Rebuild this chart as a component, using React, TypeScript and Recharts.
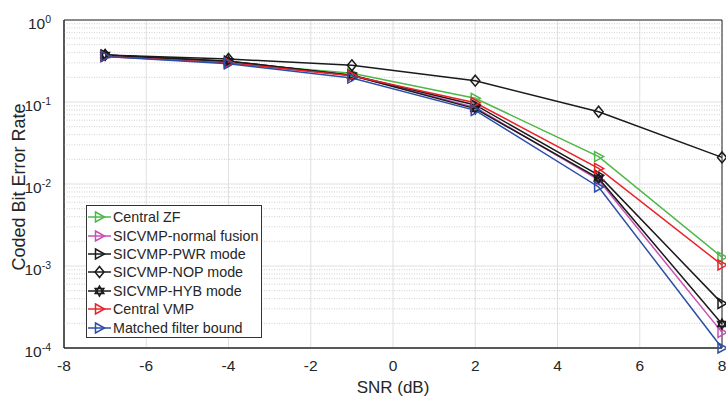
import React from 'react';
import { LineChart, Line, XAxis, YAxis, CartesianGrid, ReferenceLine, ReferenceArea, Legend } from 'recharts';

const snr = [-7, -4, -1, 2, 5, 8];
const centralZF = [0.37, 0.3, 0.224, 0.111, 0.0216, 0.00128];
const normalFusion = [0.365, 0.3, 0.21, 0.086, 0.0112, 0.000155];
const pwrMode = [0.375, 0.315, 0.212, 0.092, 0.0128, 0.00035];
const nopMode = [0.375, 0.334, 0.28, 0.182, 0.076, 0.0211];
const hybMode = [0.375, 0.315, 0.21, 0.083, 0.0117, 0.000196];
const centralVMP = [0.36, 0.3, 0.209, 0.098, 0.0155, 0.00103];
const mfBound = [0.36, 0.292, 0.196, 0.079, 0.0092, 0.0001];

const xTicks = [-8, -6, -4, -2, 0, 2, 4, 6, 8];
const yTicks = [1e-4, 1e-3, 1e-2, 1e-1, 1];

const data = snr.map((s, i) => ({
  snr: s,
  zf: centralZF[i],
  nf: normalFusion[i],
  pwr: pwrMode[i],
  nop: nopMode[i],
  hyb: hybMode[i],
  vmp: centralVMP[i],
  mfb: mfBound[i],
}));

const minorVals: number[] = [];
for (let d = -4; d < 0; d++) {
  for (let m = 2; m <= 9; m++) minorVals.push(m * Math.pow(10, d));
}

const FONT = '"Liberation Sans", Arial, Helvetica, sans-serif';
const TXT = '#262626';

type Shape = 'tri' | 'diamond' | 'hex';

function markerPath(shape: Shape, cx: number, cy: number): React.ReactNode {
  if (shape === 'tri') {
    return <polygon points={`${cx - 4},${cy - 5} ${cx + 5},${cy} ${cx - 4},${cy + 5}`} />;
  }
  if (shape === 'diamond') {
    return <polygon points={`${cx},${cy - 5.5} ${cx + 4.5},${cy} ${cx},${cy + 5.5} ${cx - 4.5},${cy}`} />;
  }
  const r = 5;
  const t1: string[] = [];
  const t2: string[] = [];
  for (let k = 0; k < 3; k++) {
    const a1 = (-90 + k * 120) * Math.PI / 180;
    const a2 = (90 + k * 120) * Math.PI / 180;
    t1.push(`${cx + r * Math.cos(a1)},${cy + r * Math.sin(a1)}`);
    t2.push(`${cx + r * Math.cos(a2)},${cy + r * Math.sin(a2)}`);
  }
  return (
    <g>
      <polygon points={t1.join(' ')} />
      <polygon points={t2.join(' ')} />
    </g>
  );
}

const makeDot = (shape: Shape, color: string) => (props: any) => {
  const { cx, cy, index, key } = props;
  if (cx == null || cy == null) return <g key={key ?? index} />;
  return (
    <g key={key ?? `${shape}-${color}-${index}`} fill="none" stroke={color} strokeWidth={1.5}>
      {markerPath(shape, cx, cy)}
    </g>
  );
};

const series = [
  { key: 'zf', name: 'Central ZF', color: '#4DB848', shape: 'tri' as Shape },
  { key: 'nf', name: 'SICVMP-normal fusion', color: '#C94FB4', shape: 'tri' as Shape },
  { key: 'pwr', name: 'SICVMP-PWR mode', color: '#1A1A1A', shape: 'tri' as Shape },
  { key: 'nop', name: 'SICVMP-NOP mode', color: '#1A1A1A', shape: 'diamond' as Shape },
  { key: 'hyb', name: 'SICVMP-HYB mode', color: '#1A1A1A', shape: 'hex' as Shape },
  { key: 'vmp', name: 'Central VMP', color: '#E8242B', shape: 'tri' as Shape },
  { key: 'mfb', name: 'Matched filter bound', color: '#2B4FA6', shape: 'tri' as Shape },
];

const YTick = (props: any) => {
  const { x, y, payload } = props;
  const e = Math.round(Math.log10(payload.value));
  return (
    <text x={x - 5} y={y + 9} textAnchor="end" fontFamily={FONT} fontSize={15.5} fill={TXT}>
      <tspan>10</tspan>
      <tspan dy={-6} fontSize={10.5}>{e}</tspan>
    </text>
  );
};

const LegendBox = () => (
  <div
    style={{
      border: '1px solid #333',
      background: '#fff',
      width: 174,
      height: 129,
      boxSizing: 'content-box',
      fontFamily: FONT,
      fontSize: 14.3,
      color: TXT,
      paddingTop: 2,
    }}
  >
    {series.map((s) => (
      <div key={s.key} style={{ display: 'flex', alignItems: 'center', height: 18.4 }}>
        <svg width={26} height={14} style={{ marginLeft: 0, marginRight: 0, flexShrink: 0 }}>
          <line x1={1} y1={7} x2={24} y2={7} stroke={s.color} strokeWidth={1.5} />
          <g fill="none" stroke={s.color} strokeWidth={1.5}>
            {markerPath(s.shape, 12.5, 7)}
          </g>
        </svg>
        <span style={{ whiteSpace: 'nowrap' }}>{s.name}</span>
      </div>
    ))}
  </div>
);

export default function App() {
  return (
    <div style={{ position: 'absolute', left: 0, top: 0, background: '#fff' }}>
      <LineChart
        width={726}
        height={398}
        data={data}
        margin={{ top: 20, right: 4, bottom: 0, left: 0 }}
      >
        <CartesianGrid stroke="#E0E0E0" strokeWidth={1} />
        {minorVals.map((v) => (
          <ReferenceLine key={v} y={v} stroke="#C4C4C4" strokeDasharray="1 1.5" strokeWidth={0.8} />
        ))}
        <XAxis
          dataKey="snr"
          type="number"
          domain={[-8, 8]}
          ticks={xTicks}
          tickLine={false}
          axisLine={{ stroke: TXT }}
          tick={{ fontSize: 15.5, fill: TXT, fontFamily: FONT }}
          tickMargin={6}
          height={50}
          label={{
            value: 'SNR (dB)',
            position: 'insideBottom',
            offset: 5,
            style: { fontSize: 17, fill: TXT, fontFamily: FONT },
          }}
        />
        <YAxis
          scale="log"
          type="number"
          domain={[1e-4, 1]}
          ticks={yTicks}
          tickLine={false}
          axisLine={{ stroke: TXT }}
          tick={<YTick />}
          width={64}
          label={{
            content: () => {
              return (
                <text
                  x={19}
                  y={187}
                  transform={`rotate(-90, 19, 187)`}
                  textAnchor="middle"
                  dominantBaseline="central"
                  fontFamily={FONT}
                  fontSize={18}
                  fill={TXT}
                >
                  Coded Bit Error Rate
                </text>
              );
            },
          }}
        />
        <ReferenceArea x1={-8} x2={8} y1={1e-4} y2={1} fill="none" stroke={TXT} strokeWidth={1} ifOverflow="visible" />
        {series.map((s) => (
          <Line
            key={s.key}
            dataKey={s.key}
            name={s.name}
            stroke={s.color}
            strokeWidth={1.5}
            dot={makeDot(s.shape, s.color)}
            activeDot={false}
            isAnimationActive={false}
          />
        ))}
        <Legend
          layout="vertical"
          align="center"
          verticalAlign="middle"
          content={() => <LegendBox />}
          wrapperStyle={{ left: 86, top: 205, width: 176, height: 133 }}
        />
      </LineChart>
    </div>
  );
}
